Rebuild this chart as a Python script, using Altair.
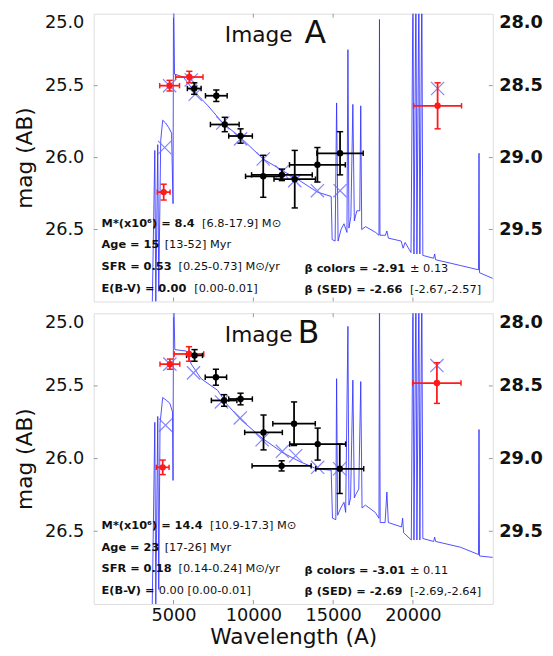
import altair as alt
import pandas as pd

FONT = "DejaVu Sans"

# ---------------- Panel A ----------------
A_spectrum = [(3642, 27.2), (3827, 25.95), (3889, 27.0), (4012, 25.91), (4074, 26.93), (4198, 25.88),
              (4321, 25.74), (4506, 25.76), (4691, 25.79), (4877, 25.83), (4969, 26.32), (5000, 24.8),
              (5062, 25.42), (5617, 25.44), (6296, 25.54), (7161, 25.64), (8087, 25.76), (9198, 25.86),
              (10617, 26.01), (11667, 26.08), (12901, 26.16), (14013, 26.24), (14877, 26.27), (14938, 26.57),
              (15124, 26.58), (15216, 25.62), (15309, 26.58), (15494, 26.50), (15679, 26.46), (15864, 26.52),
              (15926, 25.25), (15988, 26.49), (16111, 26.41), (16235, 25.63), (16327, 26.44), (16482, 26.37),
              (16667, 26.37), (16729, 25.64), (16790, 26.50), (17037, 26.48), (17655, 26.52), (17871, 26.54),
              (17902, 25.04), (17933, 26.54), (18272, 26.54), (18365, 26.51), (18457, 26.56), (19260, 26.58),
              (19383, 26.63), (19507, 26.59), (19877, 26.66), (20001, 24.8), (20062, 26.67), (20186, 24.8),
              (20247, 26.67), (20371, 24.8), (20432, 26.67), (20556, 24.8), (20618, 26.68), (21297, 26.70),
              (21359, 26.67), (21420, 26.71), (22964, 26.75), (24106, 26.78), (24137, 25.97), (24168, 26.80),
              (25000, 26.84)]
A_red_wl = [4383, 4753, 5988, 21543]
A_red_mag = [26.24, 25.50, 25.44, 25.64]
A_red_xerr = [400, 620, 860, 1500]
A_red_yerr = [0.055, 0.037, 0.04, 0.16]
A_blk_wl = [6297, 7680, 8210, 9198, 10620, 11790, 12593, 14013, 15432]
A_blk_mag = [25.52, 25.57, 25.77, 25.85, 26.13, 26.12, 26.15, 26.05, 25.97]
A_blk_xerr = [430, 680, 900, 740, 1110, 1900, 1300, 1750, 1450]
A_blk_yerr = [0.04, 0.04, 0.05, 0.05, 0.146, 0.04, 0.2, 0.12, 0.15]
A_model_wl = [4445, 4753, 6111, 6358, 8087, 9198, 10617, 11790, 12593, 14013, 15432, 21543]
A_model_mag = [25.93, 25.50, 25.46, 25.56, 25.76, 25.87, 26.01, 26.10, 26.16, 26.23, 26.23, 25.52]
A_bold = ["M*(x10\u2076) = 8.4", "Age = 15", "SFR = 0.53", "E(B-V) = 0.00", "\u03b2 colors = -2.91", "\u03b2 (SED) = -2.66"]
A_norm = ["[6.8-17.9] M\u2299", "[13-52] Myr", "[0.25-0.73] M\u2299/yr", "[0.00-0.01]", "\u00b1 0.13", "[-2.67,-2.57]"]

# ---------------- Panel B ----------------
B_spectrum = [(3642, 27.2), (3827, 25.75), (3889, 27.0), (4012, 25.71), (4074, 26.9), (4155, 25.76),
              (4321, 25.58), (4568, 25.60), (4772, 25.62), (4938, 25.68), (4969, 26.15), (5000, 24.8),
              (5080, 25.25), (5803, 25.26), (6111, 25.35), (6729, 25.45), (7760, 25.53), (8377, 25.63),
              (9198, 25.73), (10556, 25.86), (11852, 25.96), (12901, 26.02), (13951, 26.07), (14877, 26.08),
              (14957, 26.41), (15167, 26.42), (15216, 25.45), (15278, 26.39), (15476, 26.34), (15679, 26.30),
              (15784, 26.37), (15926, 25.09), (15988, 26.32), (16093, 26.27), (16235, 25.46), (16327, 26.27),
              (16402, 26.25), (16605, 26.21), (16729, 25.47), (16809, 26.34), (17019, 26.32), (17636, 26.37),
              (17871, 26.41), (17902, 24.8), (17945, 26.44), (18253, 26.44), (18365, 26.23), (18457, 26.44),
              (19279, 26.47), (19353, 26.41), (19414, 26.51), (19896, 26.56), (20001, 24.8), (20062, 26.56),
              (20186, 24.8), (20247, 26.56), (20371, 24.8), (20432, 26.56), (20556, 24.8), (20618, 26.55),
              (21297, 26.57), (21359, 26.54), (21420, 26.57), (22982, 26.61), (24106, 26.66), (24137, 25.80),
              (24168, 26.67), (25000, 26.68)]
B_red_wl = [4321, 4772, 5969, 21500]
B_red_mag = [26.06, 25.35, 25.28, 25.48]
B_red_xerr = [400, 620, 925, 1510]
B_red_yerr = [0.05, 0.035, 0.05, 0.14]
B_blk_wl = [6317, 7655, 8169, 9198, 10637, 11771, 12551, 14031, 15414]
B_blk_mag = [25.29, 25.44, 25.60, 25.59, 25.82, 26.05, 25.76, 25.90, 26.07]
B_blk_xerr = [500, 670, 800, 740, 1180, 1850, 1330, 1750, 1500]
B_blk_yerr = [0.04, 0.055, 0.04, 0.04, 0.12, 0.035, 0.15, 0.11, 0.17]
B_model_wl = [4500, 4770, 6250, 8000, 9180, 10550, 11820, 12650, 14030, 15400, 21500]
B_model_mag = [25.77, 25.35, 25.41, 25.61, 25.72, 25.87, 25.95, 25.98, 26.06, 26.07, 25.36]
B_bold = ["M*(x10\u2076) = 14.4", "Age = 23", "SFR = 0.18", "E(B-V) =", "\u03b2 colors = -3.01", "\u03b2 (SED) = -2.69"]
B_norm = ["[10.9-17.3] M\u2299", "[17-26] Myr", "[0.14-0.24] M\u2299/yr", "0.00 [0.00-0.01]", "\u00b1 0.11", "[-2.69,-2.64]"]

X_TICKS = [5000, 10000, 15000, 20000]
Y_TICKS = [25.0, 25.5, 26.0, 26.5]
X_DOMAIN = [0, 25000]
Y_DOMAIN = [25, 27]

W = 405
HA, HB = 292, 295
GRAY = "#999999"
INK = "#111111"


def txt(s, x, y, size=11.5, bold=False):
    return alt.Chart(pd.DataFrame({"t": [s]})).mark_text(
        align="left", baseline="middle", fontSize=size,
        fontWeight="bold" if bold else "normal", color=INK, font=FONT
    ).encode(x=alt.value(x), y=alt.value(y), text="t:N")


def panel(spectrum, rwl, rmag, rxe, rye, bwl, bmag, bxe, bye, mwl, mmag,
          bold, norm, norm_x, letter, letter_x, H, bottom):
    xscale = alt.Scale(domain=X_DOMAIN, nice=False, zero=False)
    yscale = alt.Scale(domain=Y_DOMAIN, reverse=True, nice=False, zero=False)
    if bottom:
        xaxis = alt.Axis(values=X_TICKS, format="d", ticks=False, domain=False, grid=False,
                         labelFontSize=18, labelPadding=3, labelColor=INK,
                         title="Wavelength (A)", titleFontSize=22, titleFontWeight="normal",
                         titlePadding=2, titleColor=INK)
    else:
        xaxis = None
    yaxis = alt.Axis(values=Y_TICKS, format=".1f", ticks=False, domain=False, grid=False,
                     labelFontSize=18, labelPadding=10, labelFlush=True, labelColor=INK,
                     title="mag (AB)", titleFontSize=22, titleFontWeight="normal",
                     titlePadding=8, titleColor=INK)

    def X(f):
        return alt.X(f, type="quantitative", scale=xscale, axis=xaxis)

    def Y(f):
        return alt.Y(f, type="quantitative", scale=yscale, axis=yaxis)

    spec = pd.DataFrame(spectrum, columns=["wl", "mag"])
    spec["i"] = range(len(spec))

    rows = []
    for kind, wl, mag, xe, ye in (("red", rwl, rmag, rxe, rye), ("black", bwl, bmag, bxe, bye)):
        for a, b, c, d in zip(wl, mag, xe, ye):
            rows.append(dict(kind=kind, wl=a, mag=b, xlo=a - c, xhi=a + c, ylo=b - d, yhi=b + d))
    pts = pd.DataFrame(rows)
    vcaps = pd.concat([pts.assign(cy=pts.ylo), pts.assign(cy=pts.yhi)])
    hcaps = pd.concat([pts.assign(cx=pts.xlo), pts.assign(cx=pts.xhi)])
    model = pd.DataFrame({"wl": mwl, "mag": mmag})

    color = alt.Color("kind:N", scale=alt.Scale(domain=["red", "black"], range=["#ff1a1a", "#000000"]),
                      legend=None)

    layers = [
        alt.Chart(spec).mark_line(stroke="#3030ff", strokeWidth=1, opacity=0.85, clip=True)
        .encode(x=X("wl"), y=Y("mag"), order="i:Q"),
        alt.Chart(model).mark_point(shape="M-1,-1L1,1M-1,1L1,-1", size=180, filled=False,
                                    stroke="#7070ff", strokeWidth=1.2, opacity=0.85)
        .encode(x=X("wl"), y=Y("mag")),
        alt.Chart(pts).mark_rule(strokeWidth=1.8).encode(x=X("xlo"), x2="xhi", y=Y("mag"), color=color),
        alt.Chart(pts).mark_rule(strokeWidth=1.8).encode(x=X("wl"), y=Y("ylo"), y2="yhi", color=color),
        alt.Chart(vcaps).mark_point(shape="M-1,0L1,0", size=40, filled=False, strokeWidth=1.5, opacity=1)
        .encode(x=X("wl"), y=Y("cy"), color=color),
        alt.Chart(hcaps).mark_point(shape="M0,-1L0,1", size=30, filled=False, strokeWidth=1.5, opacity=1)
        .encode(x=X("cx"), y=Y("mag"), color=color),
        alt.Chart(pts).mark_circle(size=42, opacity=1).encode(x=X("wl"), y=Y("mag"), color=color),
        alt.Chart(pd.DataFrame({"v": Y_TICKS[1:]})).mark_rule(color=GRAY, strokeWidth=1)
        .encode(y=Y("v"), x=alt.value(0), x2=alt.value(4)),
        alt.Chart(pd.DataFrame({"v": X_TICKS})).mark_rule(color=GRAY, strokeWidth=1)
        .encode(x=X("v"), y=alt.value(0), y2=alt.value(4)),
        alt.Chart(pd.DataFrame({"v": X_TICKS})).mark_rule(color=GRAY, strokeWidth=1)
        .encode(x=X("v"), y=alt.value(H), y2=alt.value(H - 4)),
    ]

    # annotation rows, measured up from the bottom of the panel
    row_y = [H - 79, H - 57, H - 35, H - 13, H - 33, H - 12]
    bold_x = [8, 8, 8, 8, 214, 214]
    for s, x, y in zip(bold, bold_x, row_y):
        layers.append(txt(s, x, y, bold=True))
    for s, x, y in zip(norm, norm_x, row_y):
        layers.append(txt(s, x, y, bold=False))

    layers.append(alt.Chart(pd.DataFrame({"t": ["Image"]})).mark_text(
        align="left", baseline="alphabetic", fontSize=22, color=INK, font=FONT)
        .encode(x=alt.value(133), y=alt.value(29), text="t:N"))
    layers.append(alt.Chart(pd.DataFrame({"t": [letter]})).mark_text(
        align="left", baseline="alphabetic", fontSize=32, color=INK, font=FONT)
        .encode(x=alt.value(letter_x), y=alt.value(30), text="t:N"))

    main = alt.layer(*layers)

    right = alt.Chart(pd.DataFrame({"v": Y_TICKS[1:]})).mark_rule(color=GRAY, strokeWidth=1).encode(
        y=alt.Y("v:Q", scale=yscale,
                axis=alt.Axis(orient="right", values=Y_TICKS, labelExpr="format(datum.value + 3, '.1f')",
                              labelFontWeight="bold", labelFontSize=18, labelColor=INK, ticks=False,
                              domain=False, grid=False, labelPadding=6, labelFlush=True, title=None)),
        x=alt.value(W), x2=alt.value(W - 4))

    return alt.layer(main, right).resolve_scale(y="independent").properties(width=W, height=H)


pA = panel(A_spectrum, A_red_wl, A_red_mag, A_red_xerr, A_red_yerr,
           A_blk_wl, A_blk_mag, A_blk_xerr, A_blk_yerr, A_model_wl, A_model_mag,
           A_bold, A_norm, [110, 72, 86, 102, 321, 321], "A", 214, HA, False)
pB = panel(B_spectrum, B_red_wl, B_red_mag, B_red_xerr, B_red_yerr,
           B_blk_wl, B_blk_mag, B_blk_xerr, B_blk_yerr, B_model_wl, B_model_mag,
           B_bold, B_norm, [118, 72, 86, 66, 321, 321], "B", 207, HB, True)

chart = alt.vconcat(pA, pB, spacing=10, padding={"left": 5, "top": 0, "right": 2, "bottom": 2}).configure_view(
    stroke=GRAY, strokeWidth=1.5
).configure(font=FONT)

chart.save("out.html", embed_options={"renderer": "svg", "actions": False})
